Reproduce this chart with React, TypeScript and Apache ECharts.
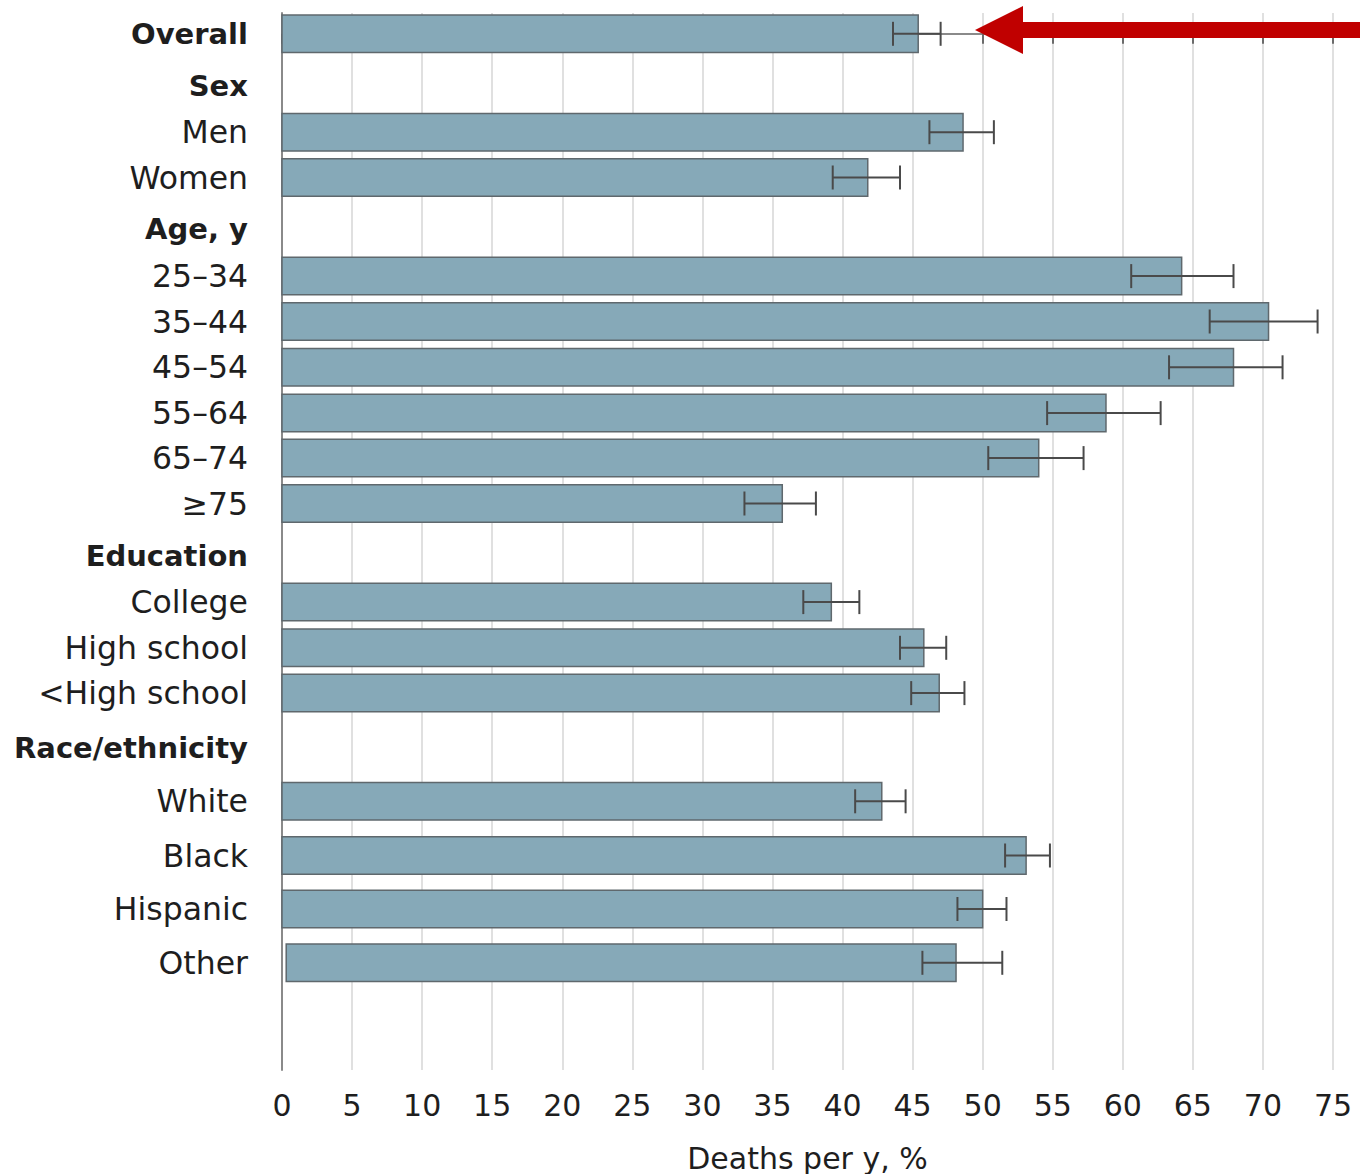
import React, { useEffect, useRef } from "react";
import * as echarts from "echarts";

// Row labels, top to bottom (group headers included)
const ROW_LABELS = [
  "Overall",
  "Sex",
  "Men",
  "Women",
  "Age, y",
  "25–34",
  "35–44",
  "45–54",
  "55–64",
  "65–74",
  "≥75",
  "Education",
  "College",
  "High school",
  "<High school",
  "Race/ethnicity",
  "White",
  "Black",
  "Hispanic",
  "Other",
];
const HEADER_LABELS = ["Overall", "Sex", "Age, y", "Education", "Race/ethnicity"];

// Deaths per year, % (null on header-only rows)
const DEATH_RATE = [45.4, null, 48.6, 41.8, null, 64.2, 70.4, 67.9, 58.8, 54.0, 35.7, null, 39.2, 45.8, 46.9, null, 42.8, 53.1, 50.0, 48.1];
const CI_LOWER = [43.6, null, 46.2, 39.3, null, 60.6, 66.2, 63.3, 54.6, 50.4, 33.0, null, 37.2, 44.1, 44.9, null, 40.9, 51.6, 48.2, 45.7];
const CI_UPPER = [47.0, null, 50.8, 44.1, null, 67.9, 73.9, 71.4, 62.7, 57.2, 38.1, null, 41.2, 47.4, 48.7, null, 44.5, 54.8, 51.7, 51.4];
const BAR_START = [0, null, 0, 0, null, 0, 0, 0, 0, 0, 0, null, 0, 0, 0, null, 0, 0, 0, 0.3];

// Layout: vertical distance from the previous row centre (px)
const ROW_STEP = [0, 52.6, 45.8, 45.3, 51.8, 46.8, 45.4, 45.8, 45.8, 45.0, 45.4, 52.6, 46.0, 45.7, 45.3, 54.7, 53.5, 54.2, 53.5, 53.8];

const ROW_POS: number[] = [];
ROW_STEP.reduce((acc, step) => {
  const p = acc + step;
  ROW_POS.push(p);
  return p;
}, 0);

const TEXT = "#1e1e1e";
const FONT = "DejaVu Sans";

export default function App() {
  const ref = useRef<HTMLDivElement>(null);

  useEffect(() => {
    document.body.style.margin = "0";
    const chart = echarts.init(ref.current!, null, { renderer: "svg" });

    const barData: number[][] = [];
    const errData: number[][] = [];
    ROW_LABELS.forEach((_, i) => {
      if (DEATH_RATE[i] == null) return;
      barData.push([ROW_POS[i], BAR_START[i] as number, DEATH_RATE[i] as number]);
      errData.push([ROW_POS[i], CI_LOWER[i] as number, CI_UPPER[i] as number]);
    });

    const labelFor = (v: number) => {
      const i = ROW_POS.findIndex((p) => Math.abs(p - v) < 0.01);
      if (i < 0) return "";
      const name = ROW_LABELS[i];
      return HEADER_LABELS.includes(name) ? `{b|${name}}` : `{n|${name}}`;
    };

    chart.setOption({
      animation: false,
      grid: {
        left: 282,
        right: 27,
        top: 13,
        bottom: 104,
        containLabel: false,
        outerBoundsMode: "none",
      },
      xAxis: {
        type: "value",
        min: 0,
        max: 75,
        interval: 5,
        axisLine: { show: true, lineStyle: { color: "#8a8a8a", width: 2 } },
        axisTick: { show: true, length: 10, lineStyle: { color: "#6a6a6a", width: 2 } },
        axisLabel: { fontFamily: FONT, fontSize: 30, color: TEXT, margin: 20 },
        splitLine: { show: true, lineStyle: { color: "#e0e0e0", width: 2 } },
        name: "Deaths per y, %",
        nameLocation: "middle",
        nameGap: 73,
        nameTextStyle: { fontFamily: FONT, fontSize: 30, color: TEXT },
      },
      yAxis: {
        type: "value",
        inverse: true,
        min: -20.8,
        max: 1036.2,
        splitLine: { show: false },
        axisTick: { show: false },
        axisLine: { show: true, lineStyle: { color: "#8a8a8a", width: 2 } },
        axisLabel: {
          customValues: ROW_POS,
          formatter: labelFor,
          margin: 34,
          align: "right",
          verticalAlign: "middle",
          rich: {
            b: { fontFamily: FONT, fontSize: 29, fontWeight: "bold", color: TEXT },
            n: { fontFamily: FONT, fontSize: 31.5, color: TEXT },
          },
        },
      },
      series: [
        {
          type: "custom",
          name: "rate",
          data: barData,
          encode: { x: [1, 2], y: 0 },
          z: 2,
          renderItem: (_p: any, api: any) => {
            const y = api.value(0);
            const a = api.coord([api.value(1), y]);
            const b = api.coord([api.value(2), y]);
            const h = 37.5;
            return {
              type: "rect",
              shape: { x: a[0], y: a[1] - h / 2, width: b[0] - a[0], height: h },
              style: { fill: "#86a9b8", stroke: "#5f686d", lineWidth: 1.5 },
            };
          },
        },
        {
          type: "custom",
          name: "ci",
          data: errData,
          encode: { x: [1, 2], y: 0 },
          z: 3,
          renderItem: (_p: any, api: any) => {
            const y = api.value(0);
            const lo = api.coord([api.value(1), y]);
            const hi = api.coord([api.value(2), y]);
            const cap = 12;
            const style = { stroke: "#4a4a4a", lineWidth: 2 };
            return {
              type: "group",
              children: [
                { type: "line", shape: { x1: lo[0], y1: lo[1], x2: hi[0], y2: hi[1] }, style },
                { type: "line", shape: { x1: lo[0], y1: lo[1] - cap, x2: lo[0], y2: lo[1] + cap }, style },
                { type: "line", shape: { x1: hi[0], y1: hi[1] - cap, x2: hi[0], y2: hi[1] + cap }, style },
              ],
            };
          },
        },
      ],
      graphic: [
        {
          type: "polygon",
          z: 10,
          shape: {
            points: [
              [975, 30],
              [1023, 6],
              [1023, 22],
              [1360, 22],
              [1360, 38],
              [1023, 38],
              [1023, 54],
            ],
          },
          style: { fill: "#c00000" },
        },
      ],
    });

    return () => chart.dispose();
  }, []);

  return <div ref={ref} style={{ width: 1360, height: 1174 }} />;
}
